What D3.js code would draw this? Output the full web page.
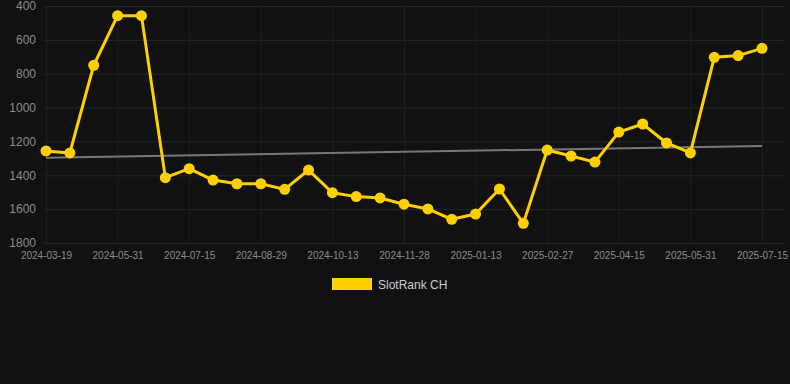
<!DOCTYPE html>
<html>
<head>
<meta charset="utf-8">
<script src="https://cdn.jsdelivr.net/npm/d3@7/dist/d3.min.js"></script>
<style>
  html, body { margin: 0; padding: 0; background: #111111; }
  svg { display: block; font-family: "Liberation Sans", Arial, sans-serif; }
</style>
</head>
<body>
<div class="chart"></div>
<script>
// Chart data
var dates = [
    "2024-03-19", "2024-04-16", "2024-05-16", "2024-05-31", "2024-06-15", "2024-06-30",
    "2024-07-15", "2024-07-30", "2024-08-14", "2024-08-29", "2024-09-13", "2024-09-28",
    "2024-10-13", "2024-10-28", "2024-11-12", "2024-11-28", "2024-12-13", "2024-12-29",
    "2025-01-13", "2025-01-28", "2025-02-12", "2025-02-27", "2025-03-15", "2025-03-31",
    "2025-04-15", "2025-04-30", "2025-05-16", "2025-05-31", "2025-06-15", "2025-06-30",
    "2025-07-15"
];
var ranks = [
    1256, 1268, 750, 457, 457, 1414, 1361, 1428, 1450, 1450, 1483, 1369,
    1503, 1526, 1534, 1571, 1599, 1660, 1629, 1481, 1684, 1251, 1286, 1322,
    1145, 1097, 1209, 1268, 703, 693, 650
];
var trendEnds = [1296, 1227];
var yTicks = [400, 600, 800, 1000, 1200, 1400, 1600, 1800];
var seriesName = "SlotRank CH";

var W = 790, H = 384;
var plot = {left: 44, right: 785, top: 6, bottom: 243};

var svg = d3.select(".chart").append("svg")
    .attr("width", W)
    .attr("height", H);

svg.append("rect").attr("width", W).attr("height", H).attr("fill", "#111111");

// scales (rank axis is reversed: best rank on top)
var x = d3.scalePoint().domain(dates).range([46, 762]);
var y = d3.scaleLinear().domain([400, 1800]).range([plot.top, plot.bottom]);

// horizontal grid + y labels
var yAxis = svg.append("g")
    .attr("transform", "translate(" + plot.left + ",0)")
    .call(d3.axisLeft(y).tickValues(yTicks).tickFormat(d3.format("d"))
        .tickSize(-(plot.right - plot.left)).tickPadding(8));
yAxis.select(".domain").remove();
yAxis.selectAll(".tick line").attr("stroke", "#262626");
yAxis.selectAll(".tick text")
    .attr("fill", "#8c8c8c")
    .attr("font-size", 12);

// vertical grid + x labels (every third category)
var labelled = dates.filter(function(d, i) { return i % 3 === 0; });
var xAxis = svg.append("g")
    .attr("transform", "translate(0," + plot.bottom + ")")
    .call(d3.axisBottom(x).tickValues(labelled).tickSize(-(plot.bottom - plot.top)).tickPadding(9));
xAxis.select(".domain").remove();
xAxis.selectAll(".tick line").attr("stroke", "#1f1f1f");
xAxis.selectAll(".tick text")
    .attr("fill", "#8c8c8c")
    .attr("font-size", 10);

// trend line
svg.append("line")
    .attr("x1", x(dates[0])).attr("y1", y(trendEnds[0]))
    .attr("x2", x(dates[dates.length - 1])).attr("y2", y(trendEnds[1]))
    .attr("stroke", "#777777")
    .attr("stroke-width", 2);

// series line
var line = d3.line()
    .x(function(d, i) { return x(dates[i]); })
    .y(function(d) { return y(d); });

svg.append("path")
    .datum(ranks)
    .attr("fill", "none")
    .attr("stroke", "#ffd000")
    .attr("stroke-width", 3)
    .attr("stroke-linejoin", "round")
    .attr("d", line);

svg.append("g").selectAll("circle")
    .data(ranks)
    .enter().append("circle")
    .attr("cx", function(d, i) { return x(dates[i]); })
    .attr("cy", function(d) { return y(d); })
    .attr("r", 5.5)
    .attr("fill", "#ffd000");

// legend
var legend = svg.append("g").attr("transform", "translate(332,278)");
legend.append("rect")
    .attr("width", 40).attr("height", 12)
    .attr("fill", "#ffd000");
legend.append("text")
    .attr("x", 46).attr("y", 10.5)
    .attr("fill", "#cccccc")
    .attr("font-size", 12)
    .text(seriesName);
</script>
</body>
</html>
